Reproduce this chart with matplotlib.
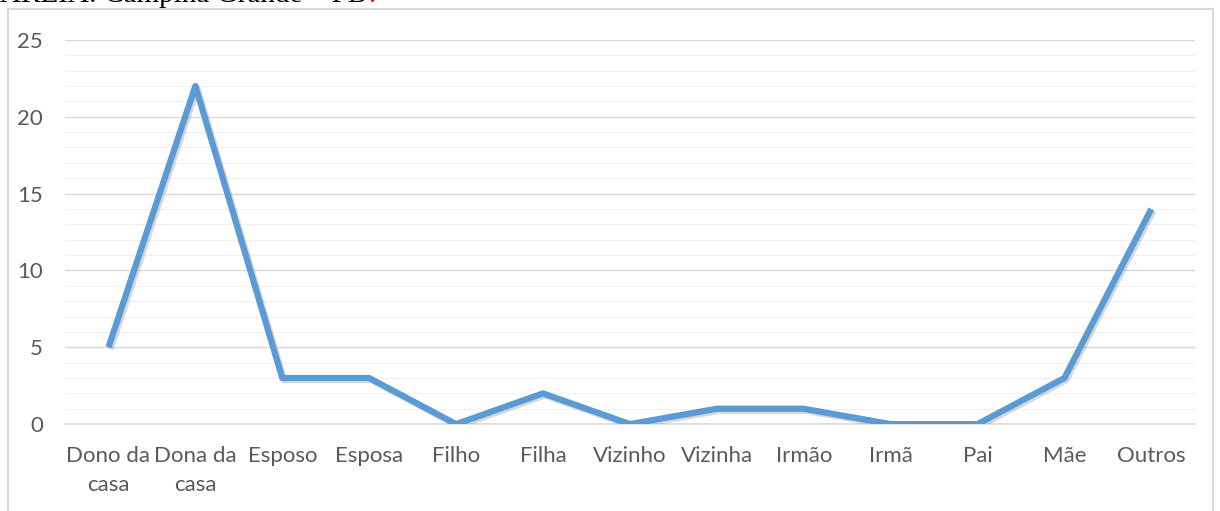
import matplotlib
matplotlib.use("Agg")
import matplotlib.pyplot as plt
import matplotlib.patheffects as pe
from matplotlib.patches import Rectangle

# dados
categorias = ["Dono da\ncasa", "Dona da\ncasa", "Esposo", "Esposa", "Filho", "Filha",
              "Vizinho", "Vizinha", "Irmão", "Irmã", "Pai", "Mãe", "Outros"]
valores = [5, 22, 3, 3, 0, 2, 0, 1, 1, 0, 0, 3, 14]
yticks = [0, 5, 10, 15, 20, 25]

plt.rcParams['font.family'] = ['Lato', 'DejaVu Sans']

fig = plt.figure(figsize=(12.2, 5.11), dpi=100)
ax = fig.add_axes([0.0533, 0.170, 0.926, 0.752])

# moldura externa do gráfico
fig.patches.append(Rectangle((8 / 1220, -0.05), 1205 / 1220, 1.05 - 9 / 511,
                             transform=fig.transFigure, fill=False,
                             edgecolor='#d9d9d9', lw=1.5))

# legenda de fonte cortada no topo
cap = fig.text(0.0, 1 - 2 / 511, "AREIA: Campina Grande – PB", family='Liberation Serif',
               fontsize=21, va='baseline', ha='left', color='black')
r = fig.canvas.get_renderer()
bb = cap.get_window_extent(r)
fig.text(bb.x1 / 1220 + 0.001, 1 - 2 / 511, ".", family='Liberation Serif',
         fontsize=21, va='baseline', ha='left', color='red')

x = list(range(len(categorias)))
ax.plot(x, valores, color='#5b9bd5', lw=4.5, solid_joinstyle='round', solid_capstyle='butt',
        path_effects=[pe.SimpleLineShadow(offset=(1.5, -1.5), shadow_color='gray', alpha=0.3),
                      pe.Normal()], zorder=3)

ax.set_xlim(-0.5, len(categorias) - 0.5)
ax.set_ylim(0, 25)
ax.set_yticks(yticks)
ax.set_yticks(range(0, 26), minor=True)
ax.set_xticks(x)
ax.set_xticklabels(categorias, fontsize=16, color='#595959', linespacing=1.55)
ax.tick_params(axis='y', labelsize=16, labelcolor='#595959', length=0, pad=16)
ax.tick_params(axis='x', length=0, pad=16)
ax.tick_params(which='minor', length=0)

ax.grid(axis='y', which='major', color='#d9d9d9', lw=1.0)
ax.grid(axis='y', which='minor', color='#f0f0f0', lw=0.8)
ax.set_axisbelow(True)
for s in ['top', 'right', 'left']:
    ax.spines[s].set_visible(False)
ax.spines['bottom'].set_color('#d9d9d9')
ax.spines['bottom'].set_linewidth(1.2)

fig.savefig("out.png", dpi=100)
